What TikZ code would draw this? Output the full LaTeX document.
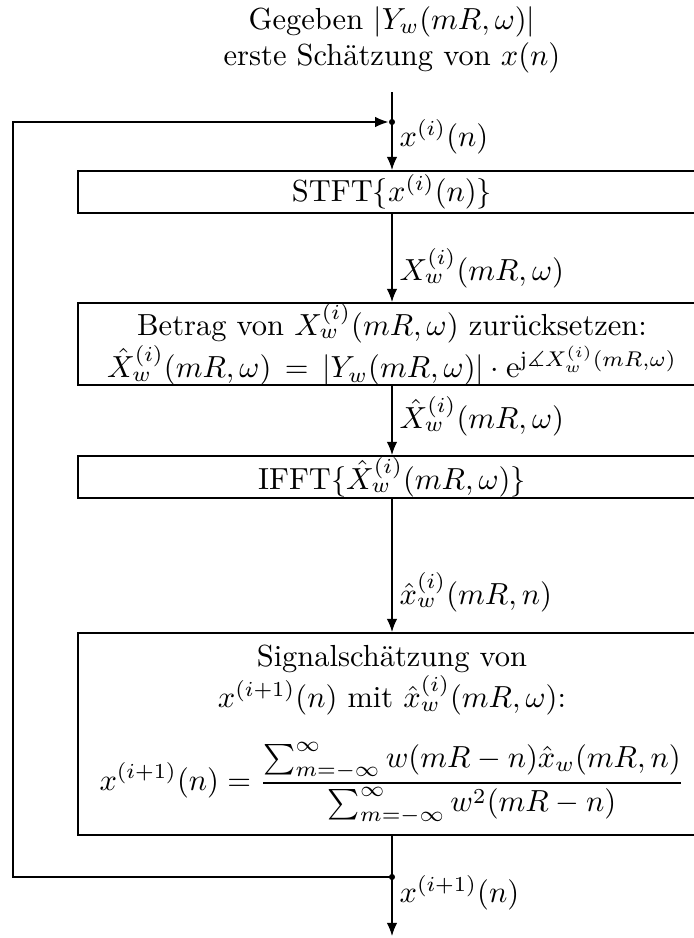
\documentclass[tikz,border=0pt]{standalone}
\usepackage{amsmath,amssymb}
\usetikzlibrary{arrows.meta}
\begin{document}
\begin{tikzpicture}[x=0.328pt,y=-0.328pt,
  blk/.style={draw,line width=0.8pt,minimum width=628*0.328pt,inner sep=1pt,align=center,anchor=north},
  conn/.style={line width=0.4pt,-{Latex[length=4.3pt,width=3.4pt]}},
  lbl/.style={anchor=west,inner sep=1pt},
  dotnode/.style={circle,fill,inner sep=0pt,minimum size=2pt}]
\useasboundingbox (0,0) rectangle (694,938);
\clip (0,0) rectangle (694,938);
\node[align=center] (top) at (392,40) {Gegeben $|Y_w(mR,\omega)|$\\ erste Sch\"atzung von $x(n)$};
\coordinate (start) at (392,92);
\node[dotnode] (d1) at (392,122) {};
\node[blk,minimum height=42*0.328pt] (stft) at (392,170) {STFT$\{x^{(i)}(n)\}$};
\node[blk,minimum height=80*0.328pt,inner ysep=0pt] (betrag) at (392,302) {Betrag von $X_w^{(i)}(mR,\omega)$ zur\"ucksetzen:\\ $\hat{X}_w^{(i)}(mR,\omega)\,=\,|Y_w(mR,\omega)|\cdot\mathrm{e}^{\mathrm{j}\measuredangle X_w^{(i)}(mR,\omega)}$};
\node[blk,minimum height=42*0.328pt,inner ysep=0pt] (ifft) at (392,455) {IFFT$\{\hat{X}_w^{(i)}(mR,\omega)\}$};
\node[blk,minimum height=202*0.328pt] (sig) at (392,632) {Signalsch\"atzung von\\ $x^{(i+1)}(n)$ mit $\hat{x}_w^{(i)}(mR,\omega)$:\\[8pt] $\displaystyle x^{(i+1)}(n)=\frac{\sum_{m=-\infty}^{\infty}w(mR-n)\hat{x}_w(mR,n)}{\sum_{m=-\infty}^{\infty}w^2(mR-n)}$};
\node[dotnode] (d2) at (392,877) {};
\coordinate (endp) at (392,936);
\coordinate (fbl) at (13,877);
\coordinate (fbt) at (13,122);
% connectors
\draw[line width=0.4pt] (start) -- (d1.center);
\draw[conn] (d1.center) -- (stft.north);
\draw[conn] (stft.south) -- (betrag.north);
\draw[conn] (betrag.south) -- (ifft.north);
\draw[conn] (ifft.south) -- (sig.north);
\draw[line width=0.4pt] (sig.south) -- (d2.center);
\draw[conn] (d2.center) -- (endp);
\draw[conn] (d2.center) -- (fbl) -- (fbt) -- (d1.west);
% labels
\node[lbl] (l1) at (396,137) {$x^{(i)}(n)$};
\node[lbl] (l2) at (396,268) {$X_w^{(i)}(mR,\omega)$};
\node[lbl] (l3) at (396,416) {$\hat{X}_w^{(i)}(mR,\omega)$};
\node[lbl] (l4) at (396,592) {$\hat{x}_w^{(i)}(mR,n)$};
\node[lbl] (l5) at (396,893) {$x^{(i+1)}(n)$};
\end{tikzpicture}
\end{document}
